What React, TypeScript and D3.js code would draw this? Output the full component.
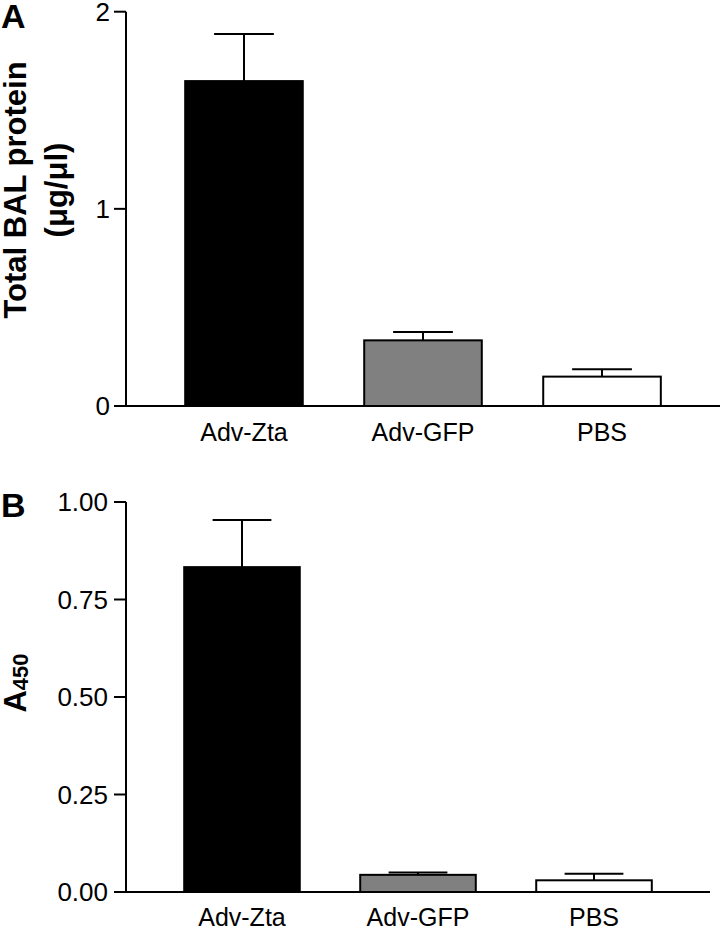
import React from "react";
import * as d3 from "d3";

const categories = ["Adv-Zta", "Adv-GFP", "PBS"];
const barColors = ["#000000", "#808080", "#ffffff"];

const proteinMeans = [1.648, 0.333, 0.149];
const proteinSem = [0.239, 0.042, 0.037];
const proteinTicks = [0, 1, 2];

const a450Means = [0.833, 0.044, 0.03];
const a450Sem = [0.121, 0.006, 0.017];
const a450Ticks = [0, 0.25, 0.5, 0.75, 1.0];

const FONT = "'Liberation Sans', Arial, Helvetica, sans-serif";

type PanelProps = {
  means: number[];
  sems: number[];
  ticks: number[];
  tickFmt: (v: number) => string;
  yDomain: [number, number];
  yRange: [number, number];
  xRange: [number, number];
  axisX: number;
  labelBaseline: number;
  tickLabelX: number;
};

function Panel(p: PanelProps) {
  const x = d3.scaleBand<string>().domain(categories).range(p.xRange).paddingInner(0.332).paddingOuter(0.325);
  const y = d3.scaleLinear().domain(p.yDomain).range(p.yRange);
  const y0 = y(0);
  return (
    <g>
      {categories.map((c, i) => {
        const bx = x(c)!;
        const bw = x.bandwidth();
        const top = y(p.means[i]);
        const errTop = y(p.means[i] + p.sems[i]);
        const cx = bx + bw / 2;
        return (
          <g key={c}>
            <line x1={cx} x2={cx} y1={top} y2={errTop} stroke="#000" strokeWidth={2} />
            <line x1={cx - bw / 4} x2={cx + bw / 4} y1={errTop} y2={errTop} stroke="#000" strokeWidth={2} />
            <rect x={bx + 1} y={top} width={bw - 2} height={y0 - top} fill={barColors[i]} stroke="#000" strokeWidth={2} />
            <text x={cx} y={p.labelBaseline} textAnchor="middle" fontSize={25} fontFamily={FONT}>{c}</text>
          </g>
        );
      })}
      <line x1={p.axisX} x2={p.axisX} y1={y0} y2={y(p.yDomain[1])} stroke="#000" strokeWidth={2} />
      <line x1={p.axisX} x2={p.xRange[1]} y1={y0} y2={y0} stroke="#000" strokeWidth={2} />
      {p.ticks.map((t) => (
        <g key={t}>
          <line x1={p.axisX - 12} x2={p.axisX} y1={y(t)} y2={y(t)} stroke="#000" strokeWidth={2} />
          <text x={p.tickLabelX} y={y(t)} dy="0.36em" textAnchor="end" fontSize={26} fontFamily={FONT}>{p.tickFmt(t)}</text>
        </g>
      ))}
    </g>
  );
}

export default function App() {
  return (
    <svg width={720} height={929} style={{ position: "absolute", left: 0, top: 0, background: "#fff" }}>
      <rect width={720} height={929} fill="#fff" />
      <text x={1} y={28} fontSize={34} fontWeight="bold" fontFamily={FONT}>A</text>
      <text x={1} y={517} fontSize={34} fontWeight="bold" fontFamily={FONT}>B</text>
      <text transform="translate(26,190) rotate(-90)" textAnchor="middle" fontSize={31} fontWeight="bold" fontFamily={FONT}>Total BAL protein</text>
      <text transform="translate(67,190) rotate(-90)" textAnchor="middle" fontSize={31} fontWeight="bold" fontFamily={FONT}>(μg/μl)</text>
      <text transform="translate(26,683) rotate(-90)" textAnchor="middle" fontWeight="bold" fontFamily={FONT}>
        <tspan fontSize={31}>A</tspan>
        <tspan fontSize={22} dy={2}>450</tspan>
      </text>
      <Panel
        means={proteinMeans}
        sems={proteinSem}
        ticks={proteinTicks}
        tickFmt={(v) => d3.format("d")(v)}
        yDomain={[0, 2]}
        yRange={[406, 11.7]}
        xRange={[126, 720]}
        axisX={126}
        labelBaseline={441}
        tickLabelX={110}
      />
      <Panel
        means={a450Means}
        sems={a450Sem}
        ticks={a450Ticks}
        tickFmt={(v) => d3.format(".2f")(v)}
        yDomain={[0, 1]}
        yRange={[892, 502]}
        xRange={[126, 710]}
        axisX={126}
        labelBaseline={926}
        tickLabelX={108}
      />
    </svg>
  );
}
